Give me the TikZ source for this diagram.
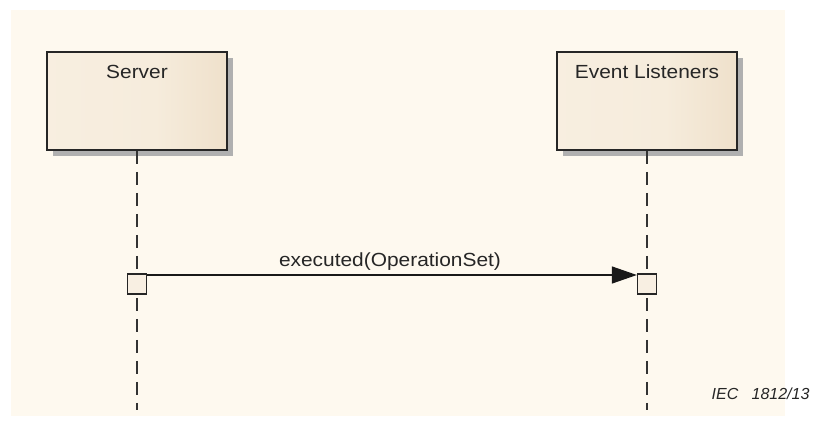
\documentclass[tikz,border=0pt]{standalone}
\usepackage{fontspec}
\setmainfont{Liberation Sans}
\newfontfamily\widesans[FakeStretch=1.1]{Liberation Sans}
\usetikzlibrary{arrows.meta}
\definecolor{bgcream}{HTML}{FEF9EF}
\definecolor{boxleft}{HTML}{F9F0E3}
\definecolor{boxmid}{HTML}{F6ECDC}
\definecolor{boxright}{HTML}{E6D2B6}
\definecolor{shadowgray}{HTML}{B0B0B0}
\definecolor{actfill}{HTML}{F8EFE2}
\pgfdeclarehorizontalshading{boxshade}{100bp}{color(0bp)=(boxleft); color(55bp)=(boxmid); color(100bp)=(boxright)}
\tikzset{
  lifebox/.style={draw=black!85, line width=1.6pt, minimum width=180pt, minimum height=98pt,
    shading=boxshade, inner sep=0pt},
  lifeshadow/.style={fill=shadowgray},
  lifeline/.style={draw=black!80, line width=1.4pt, dash pattern=on 13pt off 8pt},
  actbox/.style={draw=black!85, line width=1.3pt, fill=actfill, minimum width=19pt, minimum height=20pt, inner sep=0pt},
  msg/.style={draw=black!90, line width=1.3pt, -{Triangle[length=25pt,width=17pt]}},
  lbl/.style={font=\widesans\fontsize{19}{21}\selectfont, text=black!85},
}
\begin{document}
\begin{tikzpicture}[x=1pt,y=-1pt]
\useasboundingbox (0,0) rectangle (821,423);
\fill[white] (0,0) rectangle (821,423);
\fill[bgcream] (11,10) rectangle (785,416);
% shadows
\fill[lifeshadow] (53,58) rectangle (233,156);
\fill[lifeshadow] (563,58) rectangle (743,156);
% boxes
\node[lifebox] (srv) at (137,101) {};
\node[lifebox] (evl) at (647,101) {};
\node[lbl, anchor=center] (srvt) at (137,72) {Server};
\node[lbl, anchor=center] (evlt) at (647,72) {Event Listeners};
% lifeline ends
\coordinate (srvend) at (137,410);
\coordinate (evlend) at (647,410);
\draw[lifeline] (srv.south) -- (srvend);
\draw[lifeline] (evl.south) -- (evlend);
% activations
\node[actbox] (a1) at (137,284) {};
\node[actbox] (a2) at (647,284) {};
\draw[msg] (a1.east |- 0,275) -- (a2.west |- 0,275);
\node[lbl] (ml) at (390,262) {executed(OperationSet)};
\node[font=\fontsize{16}{18}\selectfont\itshape, text=black!85, anchor=east] (iec) at (813,394) {IEC\ \ \ 1812/13};
\end{tikzpicture}
\end{document}
